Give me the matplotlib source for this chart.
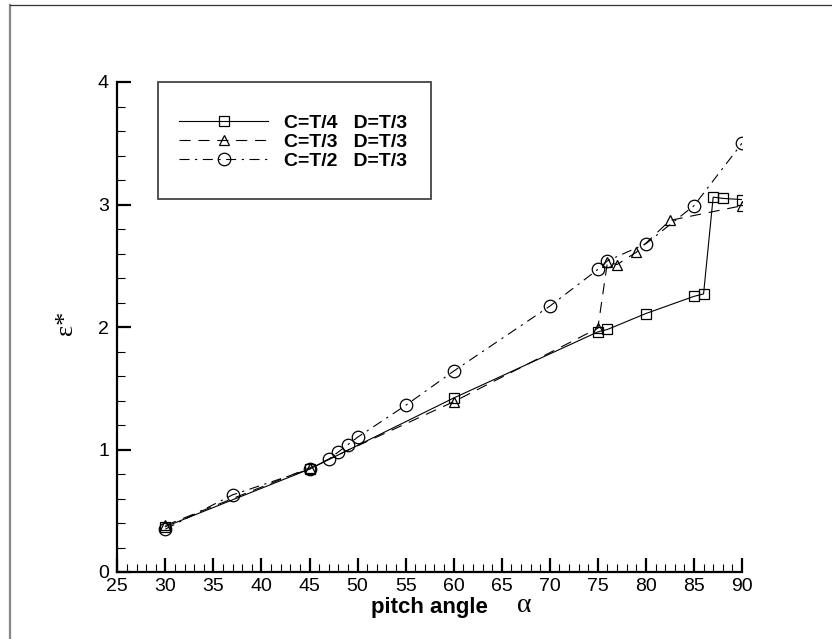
import matplotlib.pyplot as plt
from matplotlib.lines import Line2D
from matplotlib.patches import Rectangle
from matplotlib.ticker import MultipleLocator

# pitch angle (deg) and dimensionless energy for each configuration
alpha_c4 = [30, 45, 60, 75, 76, 80, 85, 86, 87, 88, 90]
eps_c4 = [0.37, 0.84, 1.42, 1.96, 1.98, 2.11, 2.25, 2.27, 3.06, 3.05, 3.04]

alpha_c3 = [30, 45, 60, 75, 76, 77, 79, 82.5, 90]
eps_c3 = [0.38, 0.85, 1.39, 1.99, 2.53, 2.51, 2.61, 2.87, 2.99]

alpha_c2 = [30, 37, 45, 47, 48, 49, 50, 55, 60, 70, 75, 76, 80, 85, 90]
eps_c2 = [0.35, 0.63, 0.84, 0.92, 0.98, 1.04, 1.10, 1.36, 1.64, 2.17,
          2.47, 2.54, 2.68, 2.99, 3.50]

labels = ["C=T/4   D=T/3", "C=T/3   D=T/3", "C=T/2   D=T/3"]

plt.rcParams['font.family'] = ['Liberation Sans', 'DejaVu Sans']
serif = ['Liberation Serif', 'DejaVu Serif']

W, H = 832, 639
fig = plt.figure(figsize=(W / 100, H / 100), dpi=100)
ax = fig.add_axes([117.3 / W, 67 / H, 624.7 / W, 490 / H])

lw = 0.8
ax.plot(alpha_c4, eps_c4, color='black', lw=lw, linestyle='-',
        marker='s', ms=7, mfc='none', mec='black', mew=0.9, label=labels[0])
ax.plot(alpha_c3, eps_c3, color='black', lw=lw, linestyle=(0, (10, 7)),
        marker='^', ms=7.5, mfc='none', mec='black', mew=0.9, label=labels[1])
ax.plot(alpha_c2, eps_c2, color='black', lw=lw, linestyle=(0, (9, 5, 2, 5)),
        marker='o', ms=9, mfc='none', mec='black', mew=0.9, label=labels[2])

ax.set_xlim(25, 90)
ax.set_ylim(0, 4)
ax.xaxis.set_major_locator(MultipleLocator(5))
ax.xaxis.set_minor_locator(MultipleLocator(1))
ax.yaxis.set_major_locator(MultipleLocator(1))
ax.yaxis.set_minor_locator(MultipleLocator(0.2))

for side in ['top', 'right']:
    ax.spines[side].set_visible(False)
for side in ['left', 'bottom']:
    ax.spines[side].set_linewidth(1.6)

ax.tick_params(which='major', direction='in', length=10, width=1.6,
               labelsize=14)
ax.tick_params(which='minor', direction='in', length=5.5, width=0.8)
ax.tick_params(axis='x', pad=4.5)
ax.tick_params(axis='y', pad=6)

# axis titles
fig.text(429 / W, 1 - 607 / H, "pitch angle", fontsize=16, fontweight='bold',
         ha='center', va='center')
fig.text(524 / W, 1 - 606 / H, "α", fontsize=20, family=serif,
         ha='center', va='center')
fig.text(66 / W, 1 - 323 / H, "ε*", fontsize=19, family=serif,
         rotation=90, ha='center', va='center')

# legend inside a drawn box
box = Rectangle((158 / W, 1 - 199 / H), 273 / W, 117 / H, transform=fig.transFigure,
                fill=False, edgecolor='#444444', lw=1.3)
fig.add_artist(box)
leg = ax.legend(loc='upper left', bbox_to_anchor=(179 / W, 1 - 114 / H),
                bbox_transform=fig.transFigure, frameon=False, numpoints=1,
                handlelength=4.6, handletextpad=0.8, labelspacing=0.08,
                borderpad=0, borderaxespad=0,
                prop={'size': 14, 'weight': 'bold'})

# outer frame of the figure
fig.add_artist(Line2D([9.5 / W, 9.5 / W], [0, 1 - 5 / H], transform=fig.transFigure,
                      color='#888888', lw=1.6))
fig.add_artist(Line2D([9.5 / W, 1], [1 - 5 / H, 1 - 5 / H], transform=fig.transFigure,
                      color='#333333', lw=0.9))

fig.savefig("out.png", dpi=100)
